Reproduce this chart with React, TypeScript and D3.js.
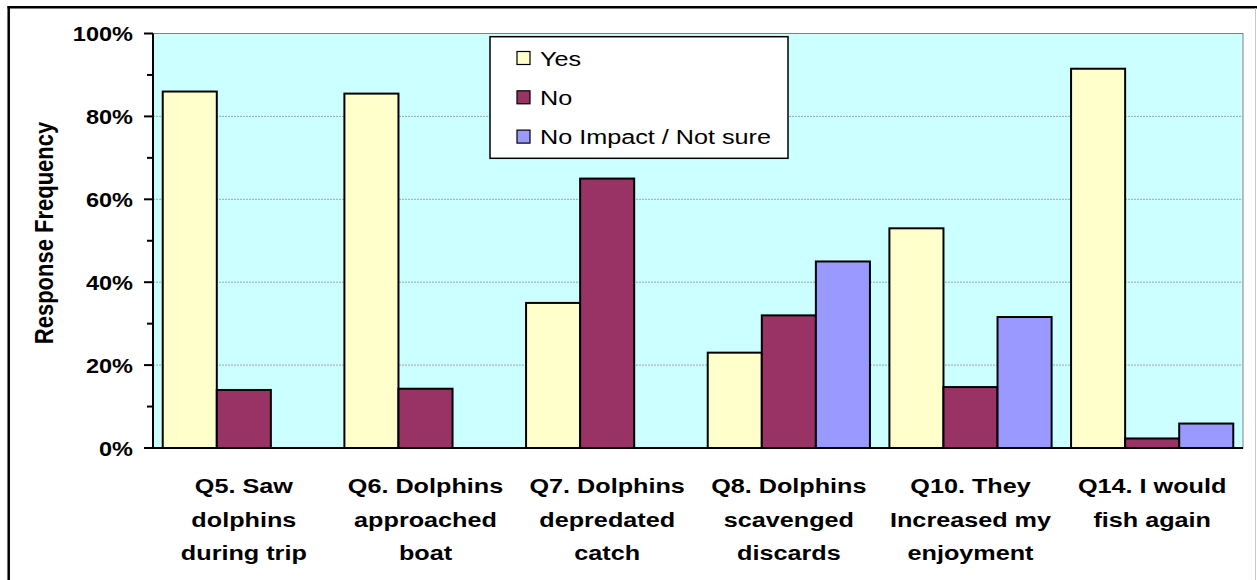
import React from "react";
import * as d3 from "d3";

const categories = [
  ["Q5. Saw", "dolphins", "during trip"],
  ["Q6. Dolphins", "approached", "boat"],
  ["Q7. Dolphins", "depredated", "catch"],
  ["Q8. Dolphins", "scavenged", "discards"],
  ["Q10. They", "Increased my", "enjoyment"],
  ["Q14. I would", "fish again"],
];
const seriesNames = ["Yes", "No", "No Impact / Not sure"];
const yesValues = [86, 85.5, 35, 23, 53, 91.5];
const noValues = [14, 14.3, 65, 32, 14.7, 2.3];
const noImpactValues = [0, 0, 0, 45, 31.6, 5.9];
const yTicks = [0, 20, 40, 60, 80, 100];
const yMinorTicks = [10, 30, 50, 70, 90];

const COLORS = ["#FFFFCC", "#993366", "#9999FF"];
const PLOT = { left: 153, right: 1243, top: 33.5, bottom: 448 };
const FONT = "'Liberation Sans', Arial, sans-serif";

export default function App() {
  const series = [yesValues, noValues, noImpactValues];
  const x = d3
    .scaleBand<number>()
    .domain(d3.range(categories.length))
    .range([PLOT.left, PLOT.right]);
  const xInner = d3
    .scaleBand<number>()
    .domain([0, 1, 2])
    .range([0, x.bandwidth()])
    .paddingOuter(0.18);
  const y = d3.scaleLinear().domain([0, 100]).range([PLOT.bottom, PLOT.top]);

  return (
    <svg
      width={1257}
      height={580}
      style={{ position: "absolute", left: 0, top: 0 }}
      fontFamily={FONT}
    >
      <rect x={0} y={0} width={1257} height={580} fill="#fff" />
      {/* outer frame */}
      <line x1={8.7} x2={8.7} y1={6} y2={580} stroke="#000" strokeWidth={2.5} />
      <line x1={7.5} x2={1257} y1={7.3} y2={7.3} stroke="#000" strokeWidth={2.5} />
      <line x1={1255.5} x2={1255.5} y1={8} y2={580} stroke="#c8c8c8" strokeWidth={1} />

      {/* plot area */}
      <rect
        x={PLOT.left}
        y={PLOT.top}
        width={PLOT.right - PLOT.left}
        height={PLOT.bottom - PLOT.top}
        fill="#CCFFFF"
        stroke="#808080"
        strokeWidth={1}
      />
      {yTicks.slice(1, -1).map((t) => (
        <line
          key={t}
          x1={PLOT.left}
          x2={PLOT.right}
          y1={y(t)}
          y2={y(t)}
          stroke="#9aa8a8"
          strokeWidth={1}
          strokeDasharray="2,1"
        />
      ))}

      {/* bars */}
      {categories.map((_, ci) =>
        series.map((vals, si) =>
          vals[ci] > 0 ? (
            <rect
              key={`${ci}-${si}`}
              x={(x(ci) as number) + (xInner(si) as number)}
              y={y(vals[ci])}
              width={xInner.bandwidth()}
              height={y(0) - y(vals[ci])}
              fill={COLORS[si]}
              stroke="#000"
              strokeWidth={2}
            />
          ) : null
        )
      )}

      {/* y axis */}
      <line x1={PLOT.left} x2={PLOT.left} y1={PLOT.top} y2={PLOT.bottom} stroke="#000" strokeWidth={2} />
      <line x1={144} x2={PLOT.right} y1={PLOT.bottom} y2={PLOT.bottom} stroke="#000" strokeWidth={2} />
      {yTicks.map((t) => (
        <g key={t}>
          <line x1={144} x2={PLOT.left} y1={y(t)} y2={y(t)} stroke="#000" strokeWidth={2} />
          <g transform={`translate(133,${y(t) + 7.5}) scale(1.12,1)`}>
            <text textAnchor="end" fontSize={21} fontWeight="bold" fill="#000">
              {t}%
            </text>
          </g>
        </g>
      ))}
      {yMinorTicks.map((t) => (
        <line key={t} x1={147} x2={PLOT.left} y1={y(t)} y2={y(t)} stroke="#000" strokeWidth={2} />
      ))}
      <g transform="translate(53,233) scale(1.15,1) rotate(-90)">
        <text textAnchor="middle" fontSize={22} fontWeight="bold" fill="#000">
          Response Frequency
        </text>
      </g>

      {/* category labels */}
      {categories.map((lines, ci) => {
        const cx = (x(ci) as number) + x.bandwidth() / 2;
        return lines.map((ln, li) => (
          <g key={`${ci}-${li}`} transform={`translate(${cx},${493 + li * 33.5}) scale(1.2,1)`}>
            <text textAnchor="middle" fontSize={21} fontWeight="bold" fill="#000">
              {ln}
            </text>
          </g>
        ));
      })}

      {/* legend */}
      <rect x={490} y={36.7} width={298} height={121.6} fill="#fff" stroke="#000" strokeWidth={1.5} />
      {seriesNames.map((name, i) => {
        const cy = 58 + i * 39.3;
        return (
          <g key={name}>
            <rect x={517} y={cy - 6.5} width={13} height={13} fill={COLORS[i]} stroke="#000" strokeWidth={1.2} />
            <g transform={`translate(540,${cy + 7.5}) scale(1.2,1)`}>
              <text fontSize={21} fill="#000">
                {name}
              </text>
            </g>
          </g>
        );
      })}
    </svg>
  );
}
